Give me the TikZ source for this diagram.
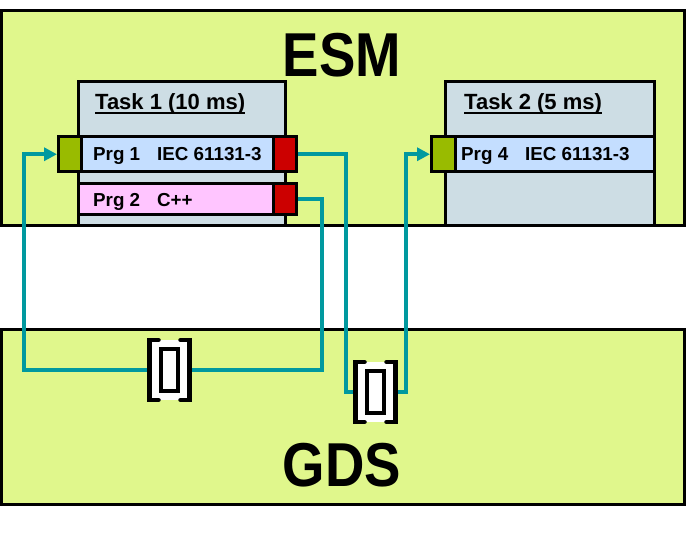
\documentclass[tikz,border=0pt]{standalone}
\usepackage{fontspec}
\usepackage{graphicx}
\setmainfont{Liberation Sans}
\usetikzlibrary{arrows.meta}

\definecolor{leaf}{HTML}{E0F78C}
\definecolor{taskgray}{HTML}{CDDDE4}
\definecolor{prgblue}{HTML}{C4DEFF}
\definecolor{prgpink}{HTML}{FFC5FF}
\definecolor{portin}{HTML}{99BB00}
\definecolor{portout}{HTML}{CC0000}
\definecolor{wire}{HTML}{00999F}

\tikzset{
  box/.style={draw, line width=3pt, anchor=north west, inner sep=0pt, outer sep=0pt},
  board/.style={box, fill=leaf, minimum width=683pt},
  taskbox/.style={box, fill=taskgray, minimum height=144pt},
  cell/.style={box, minimum height=34.5pt},
  bigtitle/.style={font=\fontsize{62}{62}\selectfont\bfseries, inner sep=0pt},
  tasktitle/.style={font=\fontsize{22}{22}\selectfont\bfseries, anchor=base west, inner sep=0pt},
  prgtext/.style={font=\fontsize{18.8}{18.8}\selectfont\bfseries, anchor=base west, inner sep=0pt},
  link/.style={draw=wire, line width=4pt, shorten <=1.5pt},
  tip/.style={-{Triangle[length=13pt, width=13pt]}, shorten >=1.5pt},
  buf/.style={fill=white, minimum width=40pt, minimum height=60pt, inner sep=0pt, outer sep=0pt},
  bufcore/.style={draw, fill=white, line width=3.8pt, minimum width=17pt, minimum height=42pt, inner sep=0pt, outer sep=0pt},
  bracket/.style={draw, line width=4.5pt, line cap=round},
}

\begin{document}
\begin{tikzpicture}[x=1pt, y=-1pt]
  \useasboundingbox (0,0) rectangle (686,534);

  % --- the two boards ---
  \node[board, minimum height=215pt] (esm) at (1.5,11) {};
  \node[board, minimum height=175pt] (gds) at (1.5,330) {};
  \node[bigtitle] (esmlabel) at (342,55) {\scalebox{0.88}[1]{ESM}};
  \node[bigtitle] (gdslabel) at (342,465) {\scalebox{0.88}[1]{GDS}};

  % --- tasks ---
  \node[taskbox, minimum width=207pt] (task1) at (78,82) {};
  \node[taskbox, minimum width=209pt] (task2) at (445.5,82) {};
  \node[tasktitle] (task1label) at (95,110) {Task 1 (10 ms)};
  \node[tasktitle] (task2label) at (464,110) {Task 2 (5 ms)};
  \foreach \t in {task1label, task2label}
    \draw[line width=2pt] ([yshift=-3.5pt]\t.base west) -- ([yshift=-3.5pt]\t.base east);

  % --- programs of task 1 ---
  \node[cell, fill=portin, minimum width=23pt] (in1) at (58.5,137) {};
  \node[cell, fill=prgblue, minimum width=192pt] (prg1) at (81.5,137) {};
  \node[cell, fill=portout, minimum width=23pt] (out1) at (273.5,137) {};
  \node[cell, fill=prgpink, minimum width=195pt, minimum height=31pt] (prg2) at (78.5,184) {};
  \node[cell, fill=portout, minimum width=23pt, minimum height=31pt] (out2) at (273.5,184) {};
  \node[prgtext] (prg1label) at (93,161) {Prg 1\hspace{0.9em}IEC 61131-3};
  \node[prgtext] (prg2label) at (93,207) {Prg 2\hspace{0.9em}C++};

  % --- program of task 2 ---
  \node[cell, fill=portin, minimum width=23.5pt] (in4) at (431.5,137) {};
  \node[cell, fill=prgblue, minimum width=199.5pt] (prg4) at (455,137) {};
  \node[prgtext] (prg4label) at (461,161) {Prg 4\hspace{0.9em}IEC 61131-3};

  % --- buffers in the GDS ---
  \node[buf] (buf1) at (169.5,370) {};
  \node[buf] (buf2) at (375.5,392) {};

  % --- connections ---
  \draw[link] (out1.east) -- ++(49.5,0) |- (buf2.west);
  \draw[link, tip] (buf2.east) -- ++(10,0) |- (in4.west);
  \draw[link] (out2.east) -- ++(25,0) |- (buf1.east);
  \draw[link, tip] (buf1.west) -- ++(-125.5,0) |- (in1.west);

  % --- buffer drawings ---
  \foreach \b in {buf1, buf2} {
    \fill[white] (\b.north west) rectangle (\b.south east);
    \draw[bracket] ([xshift=9pt]\b.north west) -- (\b.north west) -- (\b.south west) -- ++(9,0);
    \draw[bracket] ([xshift=-9pt]\b.north east) -- (\b.north east) -- (\b.south east) -- ++(-9,0);
    \node[bufcore] (\b core) at (\b) {};
  }

\end{tikzpicture}
\end{document}
